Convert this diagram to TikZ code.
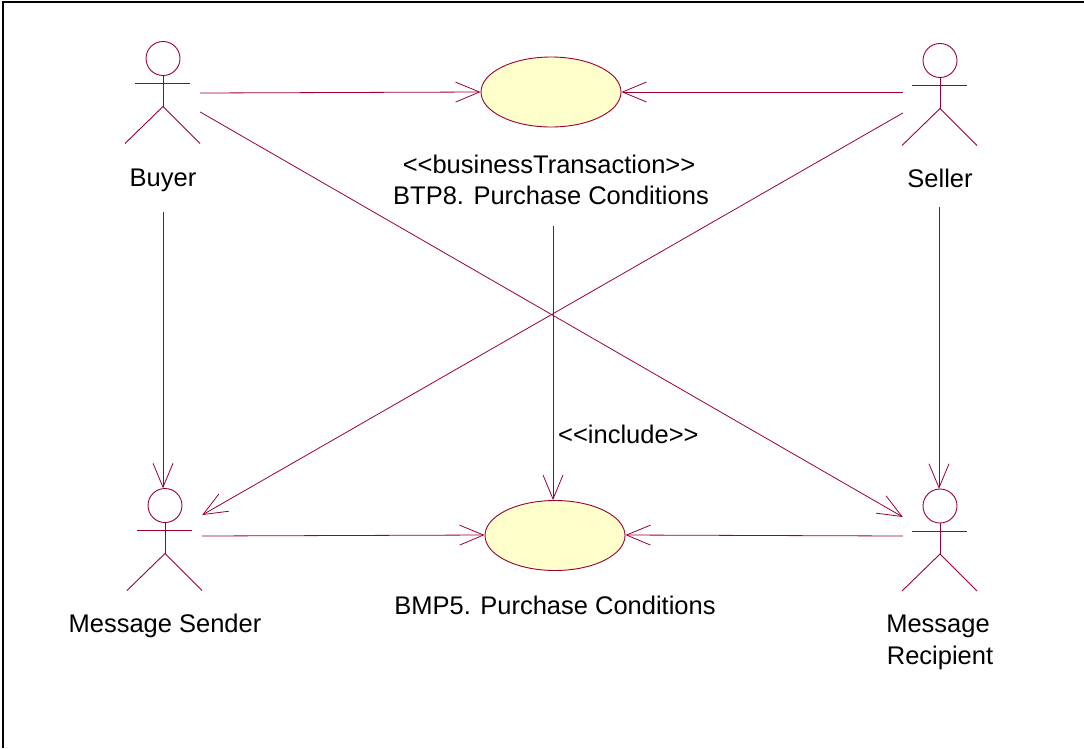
\documentclass[tikz,border=0pt]{standalone}
\usepackage{fontspec}
\setmainfont{Liberation Sans}[Ligatures=TeXOff]
\usetikzlibrary{arrows.meta,calc,shapes.geometric}
\definecolor{umlline}{RGB}{153,0,51}
\definecolor{ucfill}{RGB}{255,255,204}
\tikzset{
  actorbox/.style={draw=none, minimum width=74pt, minimum height=102pt, inner sep=0pt},
  usecase/.style={ellipse, draw=umlline, fill=ucfill, line width=0.9pt, minimum width=140pt, minimum height=70pt, inner sep=0pt},
  conn/.style={draw=umlline, line width=0.8pt, -{Straight Barb[length=24pt,width=20pt,line width=0.8pt]}},
  lbl/.style={font=\fontsize{25.5}{31}\selectfont, text=black, inner sep=0pt, anchor=base},
  frameline/.style={draw=black, line width=1.5pt},
  pics/stick/.style={code={
    \draw[umlline, line width=0.9pt] (0,0) circle[radius=17pt];
    \draw[umlline, line width=0.9pt] (-28,25) -- (27,25);
    \draw[umlline, line width=0.9pt] (0,17) -- (0,48);
    \draw[umlline, line width=0.9pt] (-38,85) -- (0,48) -- (37,85);
  }}
}
\begin{document}
\begin{tikzpicture}[x=1pt,y=-1pt]
\useasboundingbox (0,0) rectangle (1084,748);
\draw[frameline] (3,748) -- (3,2) -- (1084,2);

% actors
\path (163,58.5) pic{stick};
\node[actorbox] (buyer) at (163,92.5) {};
\node[lbl] (buyerlbl) at (163,186) {Buyer};

\path (940,60.5) pic{stick};
\node[actorbox] (seller) at (940,94.5) {};
\node[lbl] (sellerlbl) at (940,187) {Seller};

\path (165,505.5) pic{stick};
\node[actorbox] (sender) at (165,539.5) {};
\node[lbl] (senderlbl) at (165,632) {Message Sender};

\path (940,506) pic{stick};
\node[actorbox] (recipient) at (940,540) {};
\node[lbl] (recipientlbl1) at (938,632) {Message};
\node[lbl] (recipientlbl2) at (940,664) {Recipient};

% use cases
\node[usecase] (btp) at (551,92) {};
\node[lbl] (btplbl1) at (549,173) {<<businessTransaction>>};
\node[lbl] (btplbl2) at (551,204) {BTP8. Purchase Conditions};

\node[usecase] (bmp) at (555,535.5) {};
\node[lbl] (bmplbl) at (555,614) {BMP5. Purchase Conditions};

\node[lbl, anchor=base west] (inclbl) at (558,443) {<<include>>};

% connectors
\draw[conn] ([yshift=-0.5pt]buyer.east) -- (btp.west);
\draw[conn] ([yshift=2.5pt]seller.west) -- (btp.east);
\draw[conn] ([yshift=-19.5pt]buyer.east) -- ([yshift=23pt]recipient.west);
\draw[conn] ([yshift=-18.5pt]seller.west) -- ([yshift=24.5pt]sender.east);
\draw[conn] ([yshift=3.5pt]sender.east) -- ([yshift=0.5pt]bmp.west);
\draw[conn] ([yshift=4pt]recipient.west) -- ([yshift=0.5pt]bmp.east);
\draw[conn] ([yshift=-21pt]buyerlbl.south) -- (buyerlbl.south |- sender.north);
\draw[conn] ([xshift=-1pt,yshift=-20pt]sellerlbl.south) -- ([xshift=-1pt]sellerlbl.south |- recipient.north);
\draw[conn] ([xshift=2pt,yshift=-22pt]btplbl2.south) -- ([xshift=2pt]btplbl2.south |- bmp.north);
\end{tikzpicture}
\end{document}
